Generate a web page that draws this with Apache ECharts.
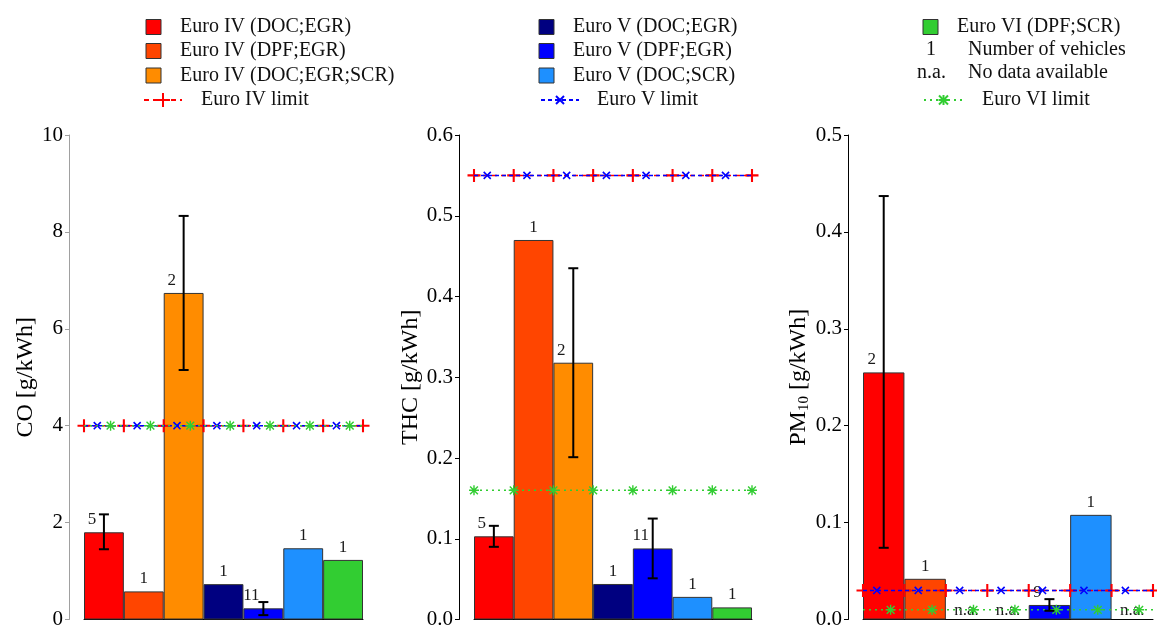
<!DOCTYPE html>
<html>
<head>
<meta charset="utf-8">
<script src="https://cdn.jsdelivr.net/npm/echarts@6/dist/echarts.min.js"></script>
<style>
html,body{margin:0;padding:0;background:#fff;}
#chart{width:1157px;height:630px;}
</style>
</head>
<body>
<div id="chart"></div>
<script>
// ---------------- DATA ----------------
const categories = ['Euro IV (DOC;EGR)', 'Euro IV (DPF;EGR)', 'Euro IV (DOC;EGR;SCR)',
  'Euro V (DOC;EGR)', 'Euro V (DPF;EGR)', 'Euro V (DOC;SCR)', 'Euro VI (DPF;SCR)'];
const limitNames = ['Euro IV limit', 'Euro V limit', 'Euro VI limit'];

const coMean  = [1.80, 0.58, 6.74, 0.73, 0.23, 1.47, 1.23];
const coLow   = [1.45, null, 5.15, null, 0.09, null, null];
const coHigh  = [2.17, null, 8.33, null, 0.36, null, null];
const coCount = [5, 1, 2, 1, 11, 1, 1];
const coLimit = [4, 4, 4];

const thcMean  = [0.103, 0.470, 0.318, 0.044, 0.088, 0.028, 0.015];
const thcLow   = [0.090, null, 0.201, null, 0.051, null, null];
const thcHigh  = [0.116, null, 0.435, null, 0.125, null, null];
const thcCount = [5, 1, 2, 1, 11, 1, 1];
const thcLimit = [0.55, 0.55, 0.16];

const pmMean  = [0.255, 0.042, null, null, 0.015, 0.108, null];
const pmLow   = [0.074, null, null, null, 0.009, null, null];
const pmHigh  = [0.437, null, null, null, 0.021, null, null];
const pmCount = [2, 1, null, null, 9, 1, null];
const pmLimit = [0.03, 0.03, 0.01];

const coTicks  = {max: 10, interval: 2};
const thcTicks = {max: 0.6, interval: 0.1};
const pmTicks  = {max: 0.5, interval: 0.1};

const naText = 'n.a.';
const legendExtra = ['Number of vehicles', 'No data available'];

// ---------------- STYLE ----------------
const FONT = '"Liberation Serif", "Times New Roman", serif';
const barColors = ['#FF0000', '#FF4500', '#FF8C00', '#000080', '#0000FF', '#1E90FF', '#32CD32'];
const limitColors = ['#FF0000', '#0000FF', '#32CD32'];
const limitDash = [[5, 4], [4, 3], [2, 4]];
const PLUS = 'path://M4.2,0H5.8V4.2H10V5.8H5.8V10H4.2V5.8H0V4.2H4.2Z';
const STAR = 'path://M4.3,0H5.7V4.3H10V5.7H5.7V10H4.3V5.7H0V4.3H4.3Z' +
  'M0.6,1.6L1.6,0.6L9.4,8.4L8.4,9.4Z M8.4,0.6L9.4,1.6L1.6,9.4L0.6,8.4Z';
const limitSymbol = [
  {symbol: PLUS, size: 13, rotate: 0},
  {symbol: PLUS, size: 10, rotate: 45},
  {symbol: STAR, size: 10, rotate: 0}
];

const panels = [
  {mean: coMean, low: coLow, high: coHigh, count: coCount, limit: coLimit, ticks: coTicks,
   name: 'CO [g/kWh]', dec: 0, grid: {left: 84, top: 135, width: 279, height: 486},
   axisColor: '#a0a0a0', nameGap: 30, markOffset: [0, 1/3, 2/3]},
  {mean: thcMean, low: thcLow, high: thcHigh, count: thcCount, limit: thcLimit, ticks: thcTicks,
   name: 'THC [g/kWh]', dec: 1, grid: {left: 474, top: 135, width: 278, height: 486},
   axisColor: '#000', nameGap: 33, markOffset: [0, 1/3, 0]},
  {mean: pmMean, low: pmLow, high: pmHigh, count: pmCount, limit: pmLimit, ticks: pmTicks,
   name: 'PM{sub|10} [g/kWh]', dec: 1, grid: {left: 863, top: 135, width: 290, height: 486},
   axisColor: '#000', nameGap: 33, markOffset: [0, 1/3, 2/3]}
];

const grids = [], xAxes = [], yAxes = [], series = [];
const nCat = categories.length;

function errRender(params, api) {
  const x = api.value(0);
  const pLo = api.coord([x, api.value(1)]);
  const pHi = api.coord([x, api.value(2)]);
  const cap = 5;
  const st = {stroke: '#000', lineWidth: 2};
  return {type: 'group', children: [
    {type: 'line', shape: {x1: pLo[0], y1: pLo[1], x2: pHi[0], y2: pHi[1]}, style: st},
    {type: 'line', shape: {x1: pLo[0] - cap, y1: pLo[1], x2: pLo[0] + cap, y2: pLo[1]}, style: st},
    {type: 'line', shape: {x1: pHi[0] - cap, y1: pHi[1], x2: pHi[0] + cap, y2: pHi[1]}, style: st}
  ]};
}

panels.forEach((p, pi) => {
  grids.push(p.grid);
  xAxes.push({
    type: 'category', gridIndex: pi, data: categories, boundaryGap: true,
    axisLine: {show: true, onZero: false, lineStyle: {color: '#000', width: 1}},
    axisTick: {show: false}, axisLabel: {show: false}, splitLine: {show: false}
  });
  xAxes.push({type: 'value', gridIndex: pi, min: 0, max: nCat, show: false,
    axisLine: {onZero: false}});
  yAxes.push({
    type: 'value', gridIndex: pi, min: 0, max: p.ticks.max, interval: p.ticks.interval,
    offset: 15,
    name: p.name, nameLocation: 'middle', nameGap: p.nameGap,
    nameTextStyle: {fontFamily: FONT, fontSize: 24, color: '#000',
      rich: {sub: {fontFamily: FONT, fontSize: 15, verticalAlign: 'bottom', padding: [12, 0, 0, 0]}}},
    axisLine: {show: true, onZero: false, lineStyle: {color: p.axisColor, width: 1}},
    axisTick: {show: true, length: 4, lineStyle: {color: p.axisColor}},
    splitLine: {show: false},
    axisLabel: {fontFamily: FONT, fontSize: 21, color: '#000', margin: 6,
      formatter: v => v.toFixed(p.dec)}
  });

  // bars
  const barData = p.mean.map((v, i) => {
    if (v === null) {
      return {value: 0, itemStyle: {color: 'rgba(0,0,0,0)', borderWidth: 0},
        label: {show: true, distance: 0}};
    }
    return {value: v, itemStyle: {color: barColors[i]},
      label: {show: true, offset: p.low[i] !== null ? [-12, 0] : [0, 0]}};
  });
  series.push({
    type: 'bar', xAxisIndex: pi * 2, yAxisIndex: pi, data: barData,
    barCategoryGap: '0%', barWidth: '100%',
    itemStyle: {borderColor: '#333', borderWidth: 1},
    label: {show: true, position: 'top', distance: 4, fontFamily: FONT, fontSize: 17, color: '#1a1a1a',
      formatter: prm => p.mean[prm.dataIndex] === null ? naText : String(p.count[prm.dataIndex])},
    z: 2
  });

  // error bars
  const errData = [];
  p.low.forEach((lo, i) => { if (lo !== null) errData.push([i, lo, p.high[i]]); });
  series.push({
    type: 'custom', xAxisIndex: pi * 2, yAxisIndex: pi, data: errData,
    encode: {x: 0, y: [1, 2]}, renderItem: errRender, z: 4
  });

  // limit lines
  p.limit.forEach((lv, li) => {
    const off = p.markOffset[li];
    const pts = [];
    if (off > 0) pts.push({value: [0, lv], symbol: 'none'});
    for (let k = 0; k + off <= nCat + 1e-9; k++) pts.push({value: [k + off, lv]});
    if (pts[pts.length - 1].value[0] < nCat) pts.push({value: [nCat, lv], symbol: 'none'});
    const sy = limitSymbol[li];
    series.push({
      type: 'line', name: limitNames[li], xAxisIndex: pi * 2 + 1, yAxisIndex: pi, data: pts,
      symbol: sy.symbol, symbolSize: sy.size, symbolRotate: sy.rotate, showAllSymbol: true,
      itemStyle: {color: limitColors[li]},
      lineStyle: {color: limitColors[li], width: 1.5, type: limitDash[li]},
      z: 3 + li * 0.1, silent: true
    });
  });
});

// ---------------- LEGEND (graphic) ----------------
const graphic = [];
const tStyle = (text, x, y, align) => ({type: 'text', silent: true,
  style: {text, x, y, font: '20px ' + FONT, fill: '#111', verticalAlign: 'middle', align: align || 'left'}});
const sq = (x, y, color) => ({type: 'rect', silent: true, shape: {x: x, y: y - 7.5, width: 15, height: 15},
  style: {fill: color, stroke: '#333', lineWidth: 1}});

function limitLegend(li, x1, x2, y, tx) {
  const c = limitColors[li];
  graphic.push({type: 'line', silent: true, shape: {x1, y1: y, x2, y2: y},
    style: {stroke: c, lineWidth: 1.8, lineDash: limitDash[li]}});
  const cx = (x1 + x2) / 2;
  const r = li === 0 ? 7 : 5;
  const lines = [];
  if (li === 0 || li === 2) { lines.push([cx - r, y, cx + r, y]); lines.push([cx, y - r, cx, y + r]); }
  if (li === 1 || li === 2) { const d = li === 1 ? 4 : 4.5; lines.push([cx - d, y - d, cx + d, y + d]); lines.push([cx - d, y + d, cx + d, y - d]); }
  lines.forEach(l => graphic.push({type: 'line', silent: true,
    shape: {x1: l[0], y1: l[1], x2: l[2], y2: l[3]}, style: {stroke: c, lineWidth: 2}}));
  graphic.push(tStyle(limitNames[li], tx, y));
}

const rowsY = [27, 51, 75.5];
// col 1
for (let i = 0; i < 3; i++) { graphic.push(sq(146, rowsY[i], barColors[i])); graphic.push(tStyle(categories[i], 180, rowsY[i])); }
limitLegend(0, 144, 182, 100, 201);
// col 2
for (let i = 3; i < 6; i++) { graphic.push(sq(539, rowsY[i - 3], barColors[i])); graphic.push(tStyle(categories[i], 573, rowsY[i - 3])); }
limitLegend(1, 541, 579, 100, 597);
// col 3
graphic.push(sq(923, 27, barColors[6])); graphic.push(tStyle(categories[6], 957, 27));
graphic.push(tStyle('1', 931, 50, 'center')); graphic.push(tStyle(legendExtra[0], 968, 50));
graphic.push(tStyle(naText, 917, 73)); graphic.push(tStyle(legendExtra[1], 968, 73));
limitLegend(2, 924, 963, 100, 982);

const chart = echarts.init(document.getElementById('chart'), null, {renderer: 'canvas'});
chart.setOption({
  animation: false,
  backgroundColor: '#fff',
  textStyle: {fontFamily: FONT},
  grid: grids, xAxis: xAxes, yAxis: yAxes, series: series, graphic: graphic
});
</script>
</body>
</html>
